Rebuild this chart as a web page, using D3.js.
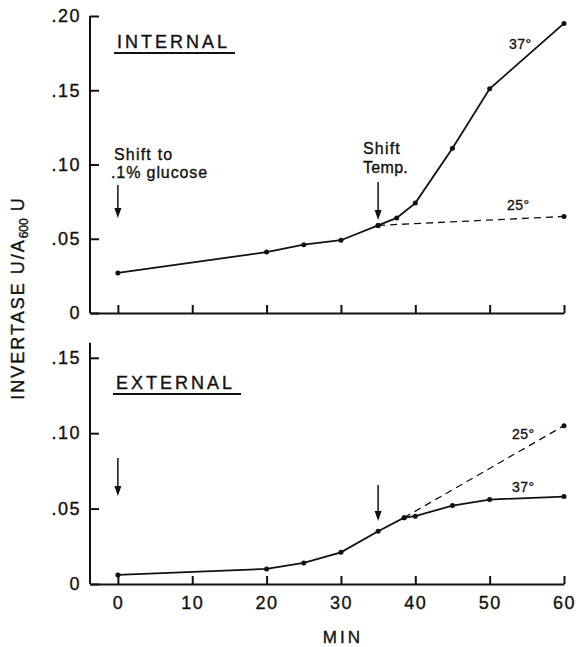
<!DOCTYPE html>
<html>
<head>
<meta charset="utf-8">
<script src="https://cdn.jsdelivr.net/npm/d3@7"></script>
<style>
  body { margin: 0; background: #fff; }
  text { font-family: "Liberation Sans", Arial, sans-serif; fill: #111; stroke: #111; stroke-width: 0.35px; }
  .axis path, .axis line { stroke: #111; stroke-width: 2; }
  .axis text { font-size: 18px; letter-spacing: 1.5px; }
</style>
</head>
<body>
<script>
// x ticks and y ticks
var minTicks = [0, 10, 20, 30, 40, 50, 60];
var internalTicks = [0, 0.05, 0.10, 0.15, 0.20];
var externalTicks = [0, 0.05, 0.10, 0.15];

// internal invertase, 37 deg (solid) and 25 deg (dashed)
var int37Time = [0, 20, 25, 30, 35, 37.5, 40, 45, 50, 60];
var int37Val = [0.027, 0.041, 0.046, 0.049, 0.059, 0.064, 0.074, 0.111, 0.151, 0.195];
var int25Time = [35, 60];
var int25Val = [0.059, 0.065];

// external invertase
var ext37Time = [0, 20, 25, 30, 35, 38.5, 40, 45, 50, 60];
var ext37Val = [0.006, 0.010, 0.014, 0.021, 0.035, 0.044, 0.045, 0.052, 0.056, 0.058];
var ext25Time = [38.5, 60];
var ext25Val = [0.044, 0.105];

var w = 576, h = 647;

var svg = d3.select("body").append("svg")
  .attr("width", w)
  .attr("height", h);

// x scale starts a bit left of 0 so the y axis sits there
var x = d3.scaleLinear().domain([-3.75, 60]).range([90, 564]);
var yTop = d3.scaleLinear().domain([0, 0.20]).range([313, 16]);
var yBot = d3.scaleLinear().domain([0, 0.16]).range([584, 342.7]);

function fmt(d){
  if(d == 0) return "0";
  return d3.format(".2f")(d).replace(/^0/, "");
}

function zip(t, v){
  var out = [];
  for(var i = 0; i < t.length; i++){
    out.push([t[i], v[i]]);
  }
  return out;
}

function drawPanel(y, ticks, showXLabels){
  var g = svg.append("g");

  g.append("g")
    .attr("class", "axis")
    .attr("transform", "translate(" + x(-3.75) + ",0)")
    .call(d3.axisLeft(y).tickValues(ticks).tickFormat(fmt).tickSizeInner(-9).tickSizeOuter(0).tickPadding(9))
    .call(function(a){ a.select(".domain").attr("d", "M0," + y(0) + "V" + y.range()[1]); });

  var xa = g.append("g")
    .attr("class", "axis")
    .attr("transform", "translate(0," + y(0) + ")")
    .call(d3.axisBottom(x).tickValues(minTicks).tickSizeInner(-8).tickSizeOuter(0).tickPadding(12));
  if(!showXLabels){
    xa.selectAll("text").remove();
  }
  g.selectAll(".axis text").attr("fill", "#111");
  return g;
}

function drawSeries(g, y, data, dashed){
  var line = d3.line()
    .x(function(d){ return x(d[0]); })
    .y(function(d){ return y(d[1]); });

  g.append("path")
    .datum(data)
    .attr("d", line)
    .attr("fill", "none")
    .attr("stroke", "#111")
    .attr("stroke-width", dashed ? 1.3 : 1.8)
    .attr("stroke-dasharray", dashed ? "7,5" : null);

  g.selectAll(null)
    .data(data)
    .enter()
    .append("circle")
    .attr("cx", function(d){ return x(d[0]); })
    .attr("cy", function(d){ return y(d[1]); })
    .attr("r", 2.5)
    .attr("fill", "#111");
}

function arrow(g, t, y1, y2){
  var xx = x(t);
  g.append("line")
    .attr("x1", xx).attr("x2", xx)
    .attr("y1", y1).attr("y2", y2 - 8)
    .attr("stroke", "#111")
    .attr("stroke-width", 1.5);
  g.append("path")
    .attr("d", "M" + (xx - 3.5) + "," + (y2 - 10) + "L" + (xx + 3.5) + "," + (y2 - 10) + "L" + xx + "," + y2 + "Z")
    .attr("fill", "#111");
}

function panelTitle(g, label, xx, yy, ulWidth){
  g.append("text")
    .attr("x", xx)
    .attr("y", yy)
    .style("font-size", "18px")
    .style("letter-spacing", "3px")
    .text(label);
  g.append("line")
    .attr("x1", xx - 3).attr("x2", xx + ulWidth)
    .attr("y1", yy + 5).attr("y2", yy + 5)
    .attr("stroke", "#111")
    .attr("stroke-width", 1.8);
}

function tempLabel(g, txt, xx, yy){
  g.append("text")
    .attr("x", xx)
    .attr("y", yy)
    .style("font-size", "14px")
    .style("letter-spacing", "0.5px")
    .text(txt);
}

// top panel
var topG = drawPanel(yTop, internalTicks, false);
drawSeries(topG, yTop, zip(int25Time, int25Val), true);
drawSeries(topG, yTop, zip(int37Time, int37Val), false);
panelTitle(topG, "INTERNAL", 117, 48, 118);
tempLabel(topG, "37°", 509, 49);
tempLabel(topG, "25°", 507, 210);

topG.append("text").attr("x", 114).attr("y", 160).style("font-size", "16px").style("letter-spacing", "1.2px").text("Shift to");
topG.append("text").attr("x", 111).attr("y", 178).style("font-size", "16px").style("letter-spacing", "0.9px").text(".1% glucose");
arrow(topG, 0, 185, 218);

topG.append("text").attr("x", 363).attr("y", 154).style("font-size", "16px").style("letter-spacing", "1.2px").text("Shift");
topG.append("text").attr("x", 363).attr("y", 173).style("font-size", "16px").style("letter-spacing", "0.3px").text("Temp.");
arrow(topG, 35, 182, 220);

// bottom panel
var botG = drawPanel(yBot, externalTicks, true);
drawSeries(botG, yBot, zip(ext25Time, ext25Val), true);
drawSeries(botG, yBot, zip(ext37Time, ext37Val), false);
panelTitle(botG, "EXTERNAL", 116, 389, 125);
tempLabel(botG, "25°", 512, 439);
tempLabel(botG, "37°", 512, 492);
arrow(botG, 0, 458, 496);
arrow(botG, 35, 485, 521);

// axis titles
svg.append("text")
  .attr("x", x(30) + 2)
  .attr("y", 643)
  .attr("text-anchor", "middle")
  .style("font-size", "17px")
  .style("letter-spacing", "3px")
  .text("MIN");

var yl = svg.append("text")
  .attr("transform", "translate(24,298) rotate(-90)")
  .attr("text-anchor", "middle")
  .style("font-size", "18px")
  .style("letter-spacing", "2px");
yl.append("tspan").text("INVERTASE U/A");
yl.append("tspan").attr("dy", 4).style("font-size", "12px").style("letter-spacing", "0px").text("600");
yl.append("tspan").attr("dy", -4).text(" U");
</script>
</body>
</html>
